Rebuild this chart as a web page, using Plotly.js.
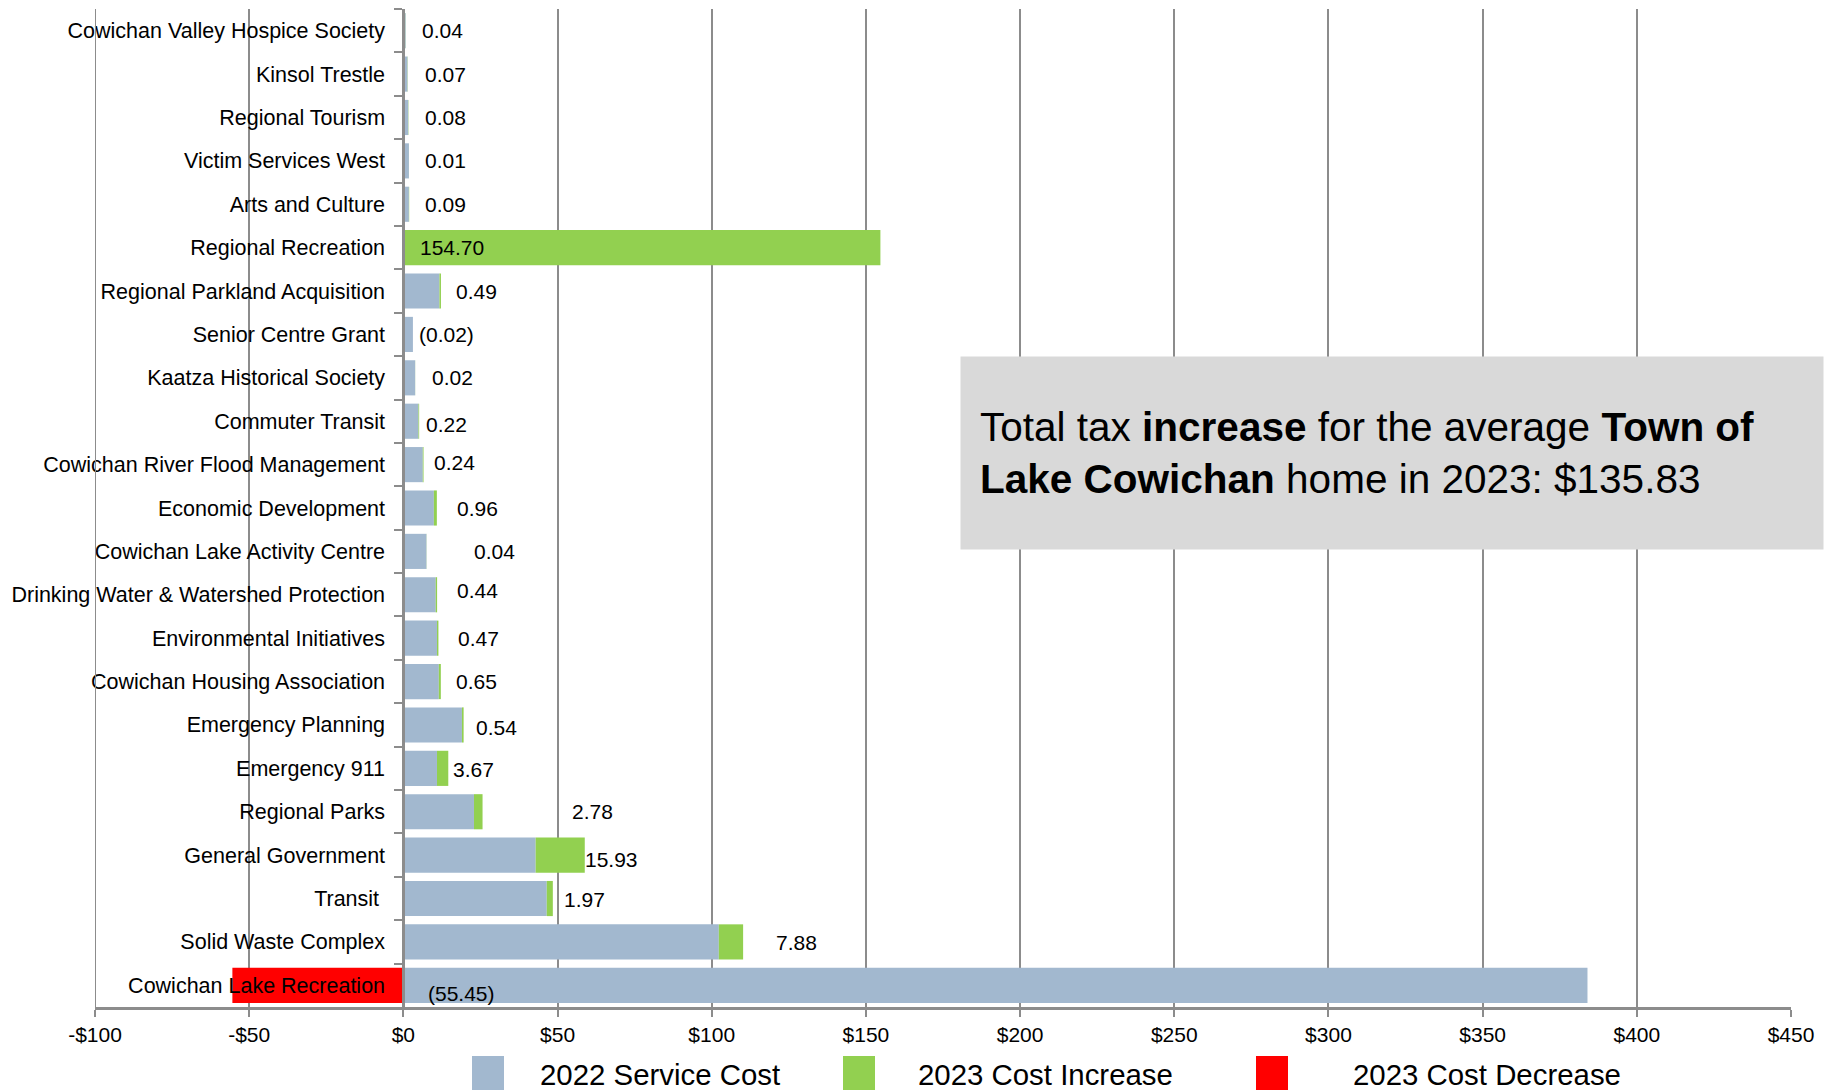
<!DOCTYPE html>
<html>
<head>
<meta charset="utf-8">
<script src="https://cdn.plot.ly/plotly-3.0.1.min.js"></script>
<style>
  html, body { margin: 0; padding: 0; background: #ffffff; }
  #chart { width: 1835px; height: 1090px; }
</style>
</head>
<body>
<div id="chart"></div>
<script>
// ---------------- DATA ----------------
const categories = [
  "Cowichan Valley Hospice Society",
  "Kinsol Trestle",
  "Regional Tourism",
  "Victim Services West",
  "Arts and Culture",
  "Regional Recreation",
  "Regional Parkland Acquisition",
  "Senior Centre Grant",
  "Kaatza Historical Society",
  "Commuter Transit",
  "Cowichan River Flood Management",
  "Economic Development",
  "Cowichan Lake Activity Centre",
  "Drinking Water & Watershed Protection",
  "Environmental Initiatives",
  "Cowichan Housing Association",
  "Emergency Planning",
  "Emergency 911",
  "Regional Parks",
  "General Government",
  "Transit ",
  "Solid Waste Complex",
  "Cowichan Lake Recreation"
];

// 2022 service cost ($)
const serviceCost2022 = [0.75, 1.35, 1.6, 1.8, 1.8, 0, 11.7, 3.1, 3.83, 4.9, 6.3, 9.9, 7.5, 10.5, 10.9, 11.5, 19.0, 10.9, 22.9, 42.9, 46.5, 102.3, 384.0];

// 2023 cost increase ($)
const costIncrease2023 = [0.04, 0.07, 0.08, 0.01, 0.09, 154.70, 0.49, 0, 0.02, 0.22, 0.24, 0.96, 0.04, 0.44, 0.47, 0.65, 0.54, 3.67, 2.78, 15.93, 1.97, 7.88, 0];

// 2023 cost decrease ($, negative)
const costDecrease2023 = [0, 0, 0, 0, 0, 0, 0, -0.02, 0, 0, 0, 0, 0, 0, 0, 0, 0, 0, 0, 0, 0, 0, -55.45];

// change labels shown beside each bar
const changeLabels = ["0.04", "0.07", "0.08", "0.01", "0.09", "154.70", "0.49", "(0.02)", "0.02", "0.22", "0.24", "0.96", "0.04", "0.44", "0.47", "0.65", "0.54", "3.67", "2.78", "15.93", "1.97", "7.88", "(55.45)"];

// x-axis ticks
const tickValues = [-100, -50, 0, 50, 100, 150, 200, 250, 300, 350, 400, 450];
const tickLabels = ["-$100", "-$50", "$0", "$50", "$100", "$150", "$200", "$250", "$300", "$350", "$400", "$450"];

const seriesNames = ["2022 Service Cost", "2023 Cost Increase", "2023 Cost Decrease"];

// ---------------- LAYOUT HELPERS ----------------
// label left-edge positions (data units) and vertical nudges (px), as placed in the original
const labelX = [5.5, 6.3, 6.3, 6.5, 6.5, 4.8, 16.4, 4.4, 8.5, 6.7, 9.2, 16.6, 22.4, 16.6, 17.2, 16.4, 23.0, 15.6, 53.9, 58.2, 51.3, 120.2, 7.4];
const labelYShift = [0, 0, 0, 0, 0, 0, 0, 0, 0, -3, 2, 0, 0, 4, 0, 0, -3, -1, 0, -4, -1, -1, -8];

const FONT = "Arial, 'Liberation Sans', sans-serif";
const BLUE = "#A2B8CF", GREEN = "#92D050", RED = "#FF0000";
const GRID = "#8C8C8C";

const W = 1835, H = 1090;
const M = { l: 95, r: 44, t: 9, b: 83 };
const plotW = W - M.l - M.r, plotH = H - M.t - M.b;
const px2paperX = p => (p - M.l) / plotW;
const px2paperY = p => (H - M.b - p) / plotH;

const traces = [
  { type: "bar", orientation: "h", name: seriesNames[0], y: categories, x: serviceCost2022,
    marker: { color: BLUE, line: { width: 0 } }, hoverinfo: "skip" },
  { type: "bar", orientation: "h", name: seriesNames[1], y: categories, x: costIncrease2023,
    marker: { color: GREEN, line: { width: 0 } }, hoverinfo: "skip" },
  { type: "bar", orientation: "h", name: seriesNames[2], y: categories, x: costDecrease2023,
    marker: { color: RED, line: { width: 0 } }, hoverinfo: "skip" }
];

const annotations = categories.map((c, i) => ({
  xref: "x", yref: "y", x: labelX[i], y: c, text: changeLabels[i],
  showarrow: false, xanchor: "left", yanchor: "middle", yshift: labelYShift[i],
  font: { family: FONT, size: 21, color: "#000" }
}));

// summary text box
annotations.push({
  xref: "paper", yref: "paper",
  x: px2paperX(960), y: px2paperY(453), xanchor: "left", yanchor: "middle",
  width: 824, height: 154, align: "left", valign: "middle", borderpad: 19,
  bgcolor: "#D9D9D9", showarrow: false,
  text: "Total tax <b>increase</b> for the average <b>Town of</b><br><b>Lake Cowichan</b> home in 2023: $135.83",
  font: { family: FONT, size: 40.5, color: "#000" }
});

// legend (large swatches, as in the original)
const legendSwatchX = [472, 843, 1256];
const legendTextX = [538, 916, 1351];
const colors = [BLUE, GREEN, RED];
const shapes = [
  // left boundary gridline at -$100
  { type: "line", xref: "x", yref: "paper", x0: -100, x1: -100, y0: 0, y1: 1,
    line: { color: GRID, width: 2 } }
];
seriesNames.forEach((n, i) => {
  shapes.push({ type: "rect", xref: "paper", yref: "paper",
    x0: px2paperX(legendSwatchX[i]), x1: px2paperX(legendSwatchX[i] + 32),
    y0: px2paperY(1056), y1: px2paperY(1095),
    fillcolor: colors[i], line: { width: 0 } });
  annotations.push({ xref: "paper", yref: "paper", x: px2paperX(legendTextX[i]), y: px2paperY(1074),
    xanchor: "left", yanchor: "middle", showarrow: false, text: n,
    font: { family: FONT, size: 29.4, color: "#000" } });
});

const layout = {
  width: W, height: H,
  margin: M,
  paper_bgcolor: "#ffffff", plot_bgcolor: "#ffffff",
  barmode: "relative", bargap: 0.19,
  showlegend: false,
  font: { family: FONT, size: 21, color: "#000" },
  xaxis: {
    range: [-100, 450], tickvals: tickValues, ticktext: tickLabels,
    showgrid: true, gridcolor: GRID, gridwidth: 2,
    zeroline: false, showline: true, linecolor: GRID, linewidth: 3,
    ticks: "outside", ticklen: 7, tickwidth: 2, tickcolor: GRID,
    tickfont: { family: FONT, size: 21, color: "#000" },
    automargin: false, fixedrange: true
  },
  yaxis: {
    type: "category", categoryorder: "array", categoryarray: categories,
    autorange: "reversed",
    anchor: "free", position: 100 / 550,
    showgrid: false, zeroline: false,
    showline: true, linecolor: GRID, linewidth: 3,
    ticks: "outside", tickson: "boundaries", ticklen: 8, tickwidth: 2, tickcolor: GRID,
    ticklabelstandoff: 13,
    tickfont: { family: FONT, size: 21.5, color: "#000" },
    automargin: false, fixedrange: true
  },
  annotations: annotations,
  shapes: shapes
};

Plotly.newPlot("chart", traces, layout, { displayModeBar: false, staticPlot: true });
</script>
</body>
</html>
